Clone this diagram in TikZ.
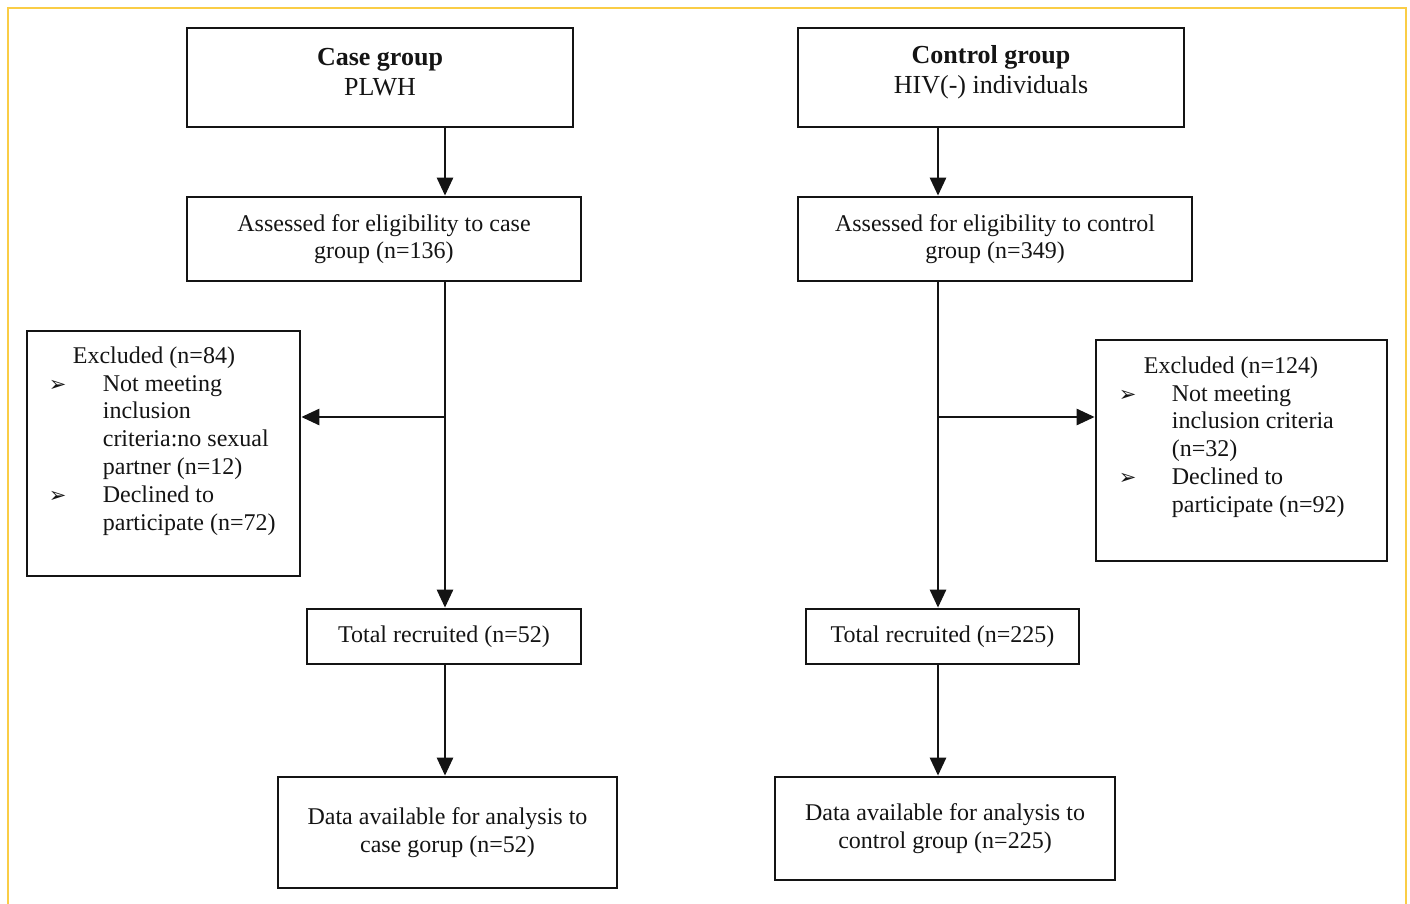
\documentclass[tikz,border=0pt]{standalone}
\usepackage{fontspec}
\setmainfont{Liberation Serif}
\newfontfamily\dejavu{DejaVu Sans}
\usetikzlibrary{arrows.meta,calc}
\definecolor{ybord}{RGB}{250,205,70}
\definecolor{ink}{RGB}{20,20,20}
\newcommand{\bul}{\hspace*{-2pt}{\dejavu\fontsize{21}{21}\selectfont ➢}}
\begin{document}
\begin{tikzpicture}[x=1pt,y=-1pt,
  box/.style={draw=ink,line width=2.7pt,rectangle,inner sep=0pt,align=center,
    text=ink,font=\fontsize{24}{27.5}\selectfont},
  titlebox/.style={box},
  titletext/.style={inner sep=0pt,align=center,text=ink,font=\fontsize{26}{30}\selectfont},
  plain/.style={inner sep=0pt,text=ink,anchor=north west,font=\fontsize{24}{27.8}\selectfont},
  arr/.style={draw=ink,line width=2.7pt,-{Triangle[length=18pt,width=16pt]}}]
\useasboundingbox (0,0) rectangle (1410,904);
\draw[ybord,line width=2pt] (8,910) -- (8,8) -- (1406,8) -- (1406,910);

% left column
\node[titlebox,minimum width=386pt,minimum height=99pt] (caseT) at (380,77.5) {};
\node[titletext] (caseTt) at ($(caseT.center)+(0,-5)$) {\textbf{Case group}\\PLWH};
\node[box,minimum width=394pt,minimum height=84pt] (caseA) at (384,239)
  {Assessed for eligibility to case\\group (n=136)};
\node[box,minimum width=273pt,minimum height=245pt] (exL) at (163.5,453.5) {};
\node[plain] (exLt) at ($(exL.north west)+(25,14)$) {%
  \begin{tabular}{@{}p{52pt}@{}l@{}}
  \multicolumn{2}{@{}l@{}}{\hspace{22pt}Excluded (n=84)}\\
  \bul & Not meeting\\
   & inclusion\\
   & criteria:no sexual\\
   & partner (n=12)\\
  \bul & Declined to\\
   & participate (n=72)
  \end{tabular}};
\node[box,minimum width=274pt,minimum height=55pt] (totL) at (444,636.5)
  {Total recruited (n=52)};
\node[box,minimum width=339pt,minimum height=111pt] (dataL) at (447.5,832.5)
  {Data available for analysis to\\case gorup (n=52)};

% right column
\node[titlebox,minimum width=386pt,minimum height=99pt] (ctrlT) at (991,77.5) {};
\node[titletext] (ctrlTt) at ($(ctrlT.center)+(0,-5)$) {\textbf{Control group}\\HIV(-) individuals};
\node[box,minimum width=394pt,minimum height=84pt] (ctrlA) at (995,239)
  {Assessed for eligibility to control\\group (n=349)};
\node[box,minimum width=291pt,minimum height=221pt] (exR) at (1241.5,450.5) {};
\node[plain] (exRt) at ($(exR.north west)+(26,15)$) {%
  \begin{tabular}{@{}p{51pt}@{}l@{}}
  \multicolumn{2}{@{}l@{}}{\hspace{23pt}Excluded (n=124)}\\
  \bul & Not meeting\\
   & inclusion criteria\\
   & (n=32)\\
  \bul & Declined to\\
   & participate (n=92)
  \end{tabular}};
\node[box,minimum width=273pt,minimum height=55pt] (totR) at (942.5,636.5)
  {Total recruited (n=225)};
\node[box,minimum width=340pt,minimum height=103pt] (dataR) at (945,828.5)
  {Data available for analysis to\\control group (n=225)};

% spines
\coordinate (sL) at (445,0);
\coordinate (sR) at (938,0);
\coordinate (bL) at (445,417);
\coordinate (bR) at (938,417);

\draw[arr] (caseT.south -| sL) -- (caseA.north -| sL);
\draw[arr] (caseA.south -| sL) -- (totL.north -| sL);
\draw[arr] (bL) -- (exL.east |- bL);
\draw[arr] (totL.south -| sL) -- (dataL.north -| sL);

\draw[arr] (ctrlT.south -| sR) -- (ctrlA.north -| sR);
\draw[arr] (ctrlA.south -| sR) -- (totR.north -| sR);
\draw[arr] (bR) -- (exR.west |- bR);
\draw[arr] (totR.south -| sR) -- (dataR.north -| sR);
\end{tikzpicture}
\end{document}
